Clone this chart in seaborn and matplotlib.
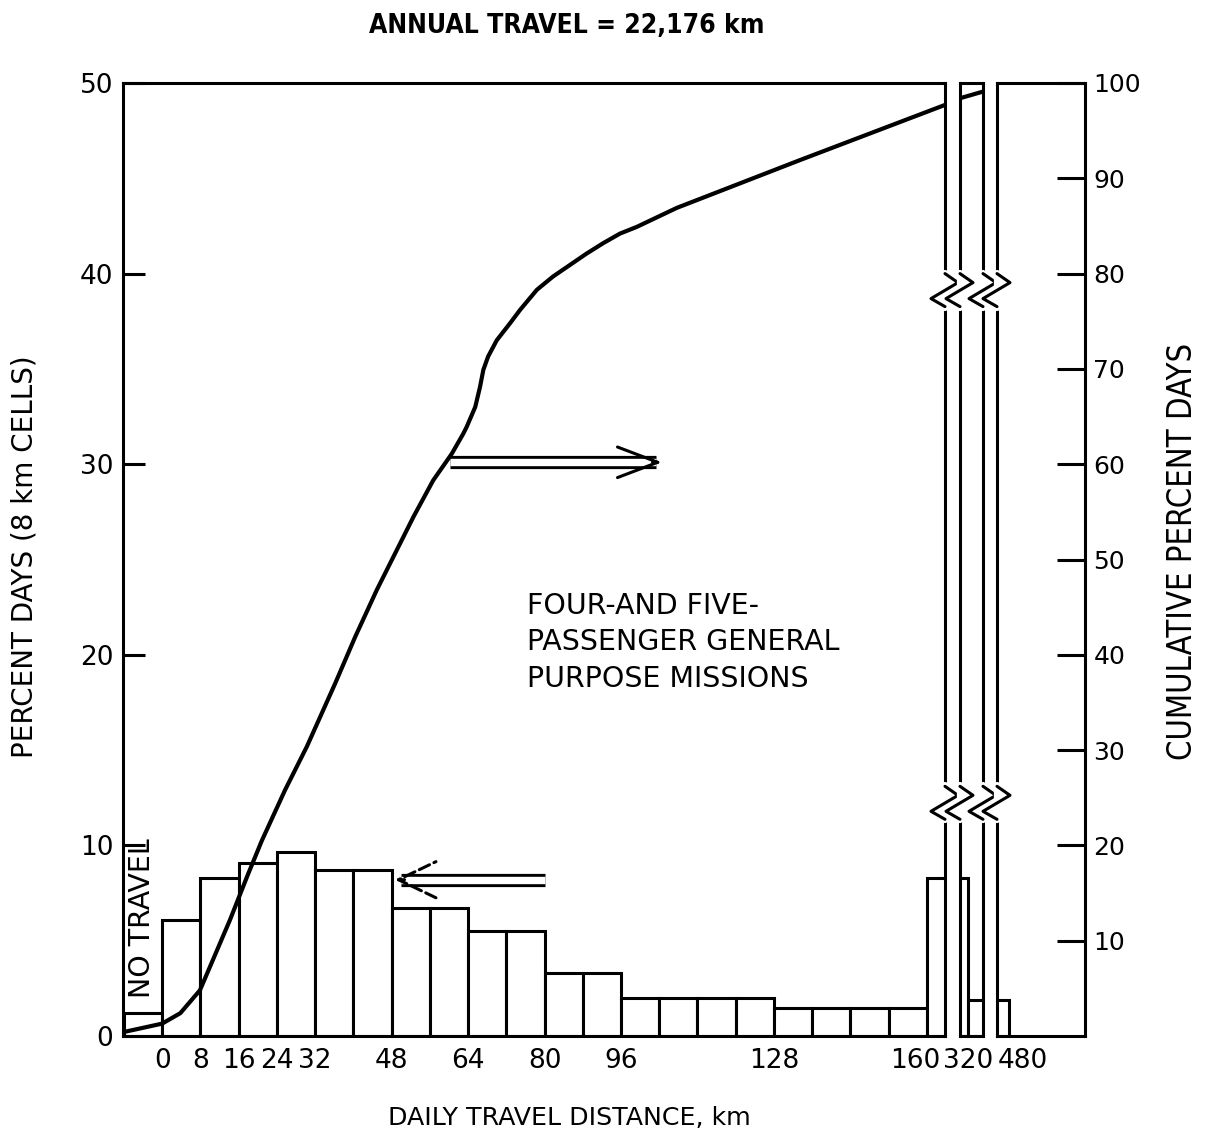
import numpy as np
import matplotlib
matplotlib.use('Agg')
import matplotlib.pyplot as plt
import matplotlib.patheffects as pe
from matplotlib.lines import Line2D
from matplotlib import transforms
import seaborn as sns

# histogram: percent of days per distance cell (first cell = no travel)
edges = [-8, 0, 8, 16, 24, 32, 40, 48, 56, 64, 72, 80, 88, 96, 104, 112,
         120, 128, 136, 144, 152, 160, 320, 480]
pct_days = [1.2, 6.1, 8.3, 9.1, 9.65, 8.7, 8.7, 6.7, 6.7, 5.5, 5.5, 3.3, 3.3,
            2.0, 2.0, 2.0, 2.0, 1.45, 1.45, 1.45, 1.45, 8.3, 1.9]

# cumulative curve
cum_km = [-8.2, 0, 3.8, 7.9, 14.2, 17.9, 20.85, 25.7, 30.3, 36.2, 40.4, 44.9,
          49.1, 52.6, 56.7, 60.6, 63.0, 63.7, 65.5, 66.5, 67.2, 68.2, 70.0,
          72.8, 74.9, 78.4, 81.8, 85.3, 88.8, 92.3, 95.8, 99.3, 107.7, 133.4,
          163.8]
cum_pct = [0.4, 1.3, 2.4, 4.8, 12.2, 16.9, 20.5, 25.8, 30.4, 37.0, 41.9, 46.8,
           51.0, 54.5, 58.3, 61.1, 63.2, 63.9, 66.0, 68.1, 69.9, 71.3, 73.0,
           74.8, 76.2, 78.3, 79.7, 80.9, 82.1, 83.2, 84.2, 84.9, 86.9, 91.9,
           97.7]
tail_km = [300, 360]
tail_pct = [98.4, 99.1]

x_ticks = [0, 8, 16, 24, 32, 48, 64, 80, 96, 128, 160]
left_ticks = [0, 10, 20, 30, 40, 50]
right_ticks = [10, 20, 30, 40, 50, 60, 70, 80, 90, 100]

sns.set_theme(style='white')
plt.rcParams['font.family'] = ['DejaVu Sans']
plt.rcParams['text.color'] = 'black'
plt.rcParams['axes.labelcolor'] = 'black'
plt.rcParams['axes.edgecolor'] = 'black'
plt.rcParams['axes.linewidth'] = 2.2
plt.rcParams['xtick.color'] = 'black'
plt.rcParams['ytick.color'] = 'black'

W, H = 1219, 1141
fig = plt.figure(figsize=(W / 100, H / 100), dpi=100)


def box(l, r, t, b):
    return [l / W, 1 - b / H, (r - l) / W, (b - t) / H]


ax1 = fig.add_axes(box(123, 945, 83, 1036))
ax2 = fig.add_axes(box(960, 983, 83, 1036))
ax3 = fig.add_axes(box(997, 1085, 83, 1036))
panels = [(ax1, (-8.2, 163.8)), (ax2, (300, 360)), (ax3, (467, 565))]

centers = (np.array(edges[:-1]) + np.array(edges[1:])) / 2
for ax, lim in panels:
    sns.histplot(x=centers, weights=pct_days, bins=edges, ax=ax,
                 color='white', edgecolor='black', linewidth=2.2, alpha=1)
    ax.set(xlim=lim, ylim=(0, 50), xlabel='', ylabel='')
    for s in ax.spines.values():
        s.set_color('black')
        s.set_linewidth(2.2)

ax1.set_yticks(left_ticks)
ax1.tick_params(axis='y', direction='in', length=16, width=2.2,
                labelsize=19, pad=7)
ax1.yaxis.get_major_ticks()[1].tick1line.set_visible(False)
ax1.set_xticks(x_ticks)
ax1.tick_params(axis='x', length=0, labelsize=19, pad=9)
ax2.set_yticks([])
ax2.set_xticks([320])
ax2.tick_params(axis='x', length=0, labelsize=19, pad=9)
ax3.set_yticks([])
ax3.set_xticks([480])
ax3.tick_params(axis='x', length=0, labelsize=19, pad=9)
ax3.spines['right'].set_visible(False)

# the reference crowds "160320 480" together, nudged off the cell edges
lab160 = ax1.get_xticklabels()[-1]
lab160.set_transform(lab160.get_transform()
                     + transforms.ScaledTranslation(-0.12, 0, fig.dpi_scale_trans))
lab480 = ax3.get_xticklabels()[0]
lab480.set_transform(lab480.get_transform()
                     + transforms.ScaledTranslation(0.14, 0, fig.dpi_scale_trans))

sec = ax3.secondary_yaxis('right', functions=(lambda v: v * 2, lambda v: v / 2))
sec.set_yticks(right_ticks)
sec.tick_params(direction='in', length=20, width=2.2, labelsize=18, pad=6)
sec.spines['right'].set_linewidth(2.2)
sec.spines['right'].set_color('black')

# cumulative curve
t1 = ax1.twinx()
t1.set_ylim(0, 100)
t1.axis('off')
sns.lineplot(x=cum_km, y=cum_pct, ax=t1, color='black', lw=3, estimator=None)
t2 = ax2.twinx()
t2.set_ylim(0, 100)
t2.axis('off')
sns.lineplot(x=tail_km, y=tail_pct, ax=t2, color='black', lw=3, estimator=None)


def hollow_arrow(ax, x0, x1, y, head_len, head_w, dashed=False):
    sgn = 1 if x1 > x0 else -1
    ax.plot([x0, x1 - sgn * 1.2], [y, y], color='white', lw=5.3,
            solid_capstyle='butt',
            path_effects=[pe.Stroke(linewidth=9.5, foreground='black',
                                    capstyle='butt'), pe.Normal()])
    ax.annotate('', xy=(x1, y), xytext=(x1 - sgn * 2, y),
                arrowprops=dict(arrowstyle=f'->,head_length={head_len},head_width={head_w}',
                                lw=2.2, color='black', ls='--' if dashed else '-',
                                shrinkA=0, shrinkB=0, mutation_scale=10))


hollow_arrow(ax1, 60.2, 104.6, 30.1, 2.9, 1.1)
hollow_arrow(ax1, 80.1, 48.7, 8.2, 2.7, 1.3, dashed=True)

ax1.text(-4.2, 6.2, 'NO TRAVEL', rotation=90, ha='center', va='center',
         fontsize=20.5)
ax1.text(76.3, 23.3, 'FOUR-AND FIVE-\nPASSENGER GENERAL\nPURPOSE MISSIONS',
         ha='left', va='top', fontsize=20.5, linespacing=1.38)

fig.text(567 / W, 1 - 26 / H, 'ANNUAL TRAVEL = 22,176 km', ha='center',
         va='center', fontsize=19, fontweight='bold', fontstretch='condensed',
         family='DejaVu Sans')
fig.text(569 / W, 1 - 1118 / H, 'DAILY TRAVEL DISTANCE, km', ha='center',
         va='center', fontsize=18.2)
fig.text(25 / W, 1 - 557 / H, 'PERCENT DAYS (8 km CELLS)', rotation=90,
         ha='center', va='center', fontsize=20)
fig.text(1182 / W, 1 - 551 / H, 'CUMULATIVE PERCENT DAYS', rotation=90,
         ha='center', va='center', fontsize=23.5, fontstretch='condensed',
         family='DejaVu Sans')

# break marks on the four panel edges
zig = np.array([(0, 0), (13, -9), (-14, -25), (0, -33)])
for ax, xa in [(ax1, 1), (ax2, 0), (ax2, 1), (ax3, 0)]:
    for yv in (40.0, 13.1):
        tr = transforms.blended_transform_factory(ax.transAxes, ax.transData)
        x0, y0 = tr.transform((xa, yv))
        cover = fig.transFigure.inverted().transform([(x0, y0 + 1), (x0, y0 - 34)])
        fig.add_artist(Line2D(cover[:, 0], cover[:, 1], color='white', lw=4.5,
                              transform=fig.transFigure))
        pts = fig.transFigure.inverted().transform(zig + (x0, y0))
        fig.add_artist(Line2D(pts[:, 0], pts[:, 1], color='black', lw=2.2,
                              transform=fig.transFigure))

fig.savefig('out.png', dpi=100)
